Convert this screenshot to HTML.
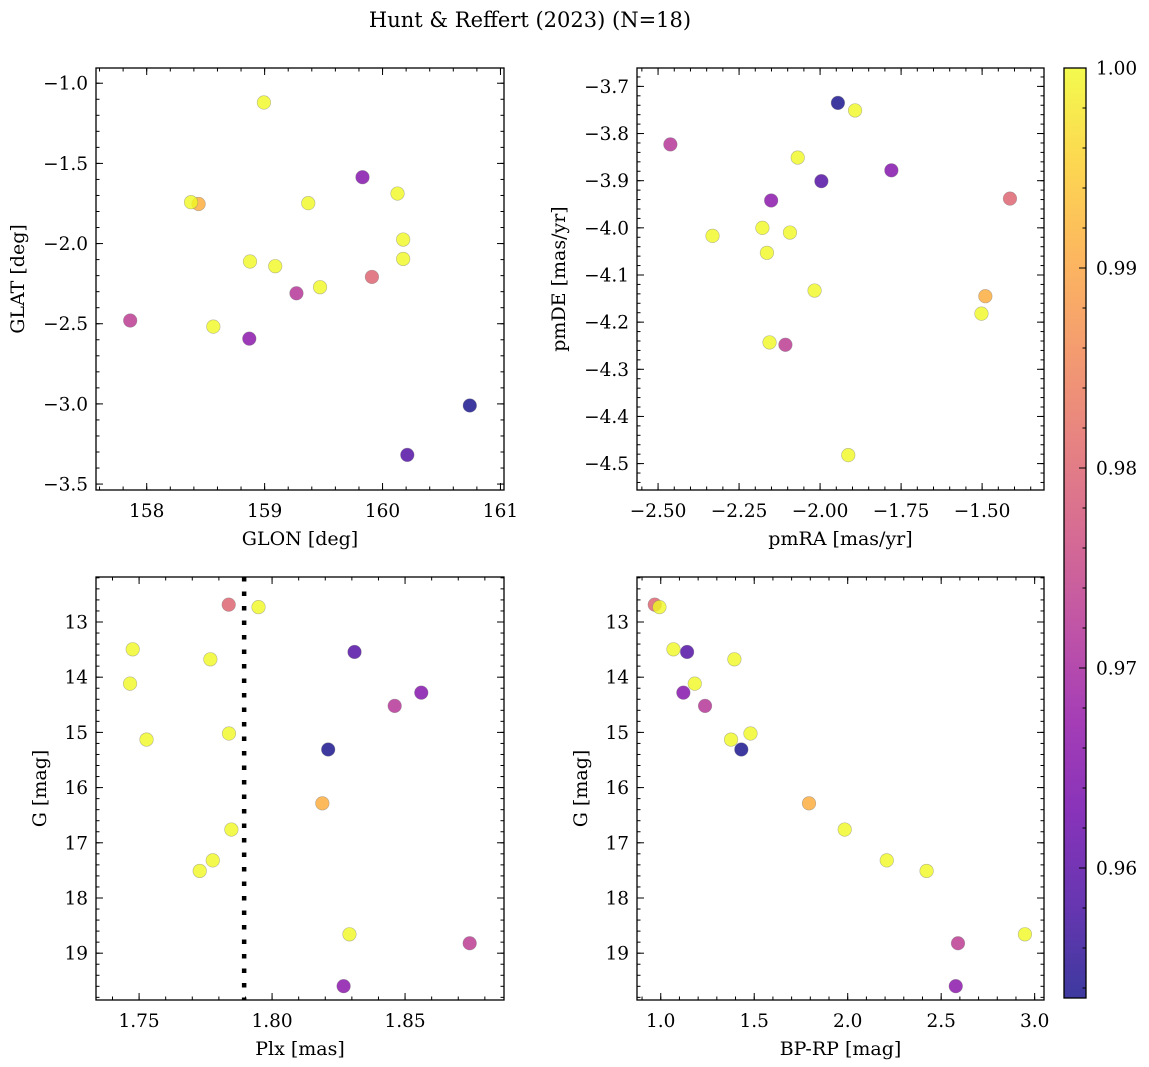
<!DOCTYPE html>
<html><head><meta charset="utf-8"><style>
body{margin:0;background:#fff;}
svg{display:block;font-family:"DejaVu Serif","Liberation Serif",serif;}
</style></head><body>
<svg id="fig" width="1149" height="1067" viewBox="0 0 1149 1067" xmlns="http://www.w3.org/2000/svg">
<defs>
<linearGradient id="plasma" x1="0" y1="1" x2="0" y2="0">
<stop offset="0" stop-color="#0d0887"/><stop offset="0.1" stop-color="#41049d"/><stop offset="0.2" stop-color="#6a00a8"/><stop offset="0.3" stop-color="#8f0da4"/><stop offset="0.4" stop-color="#b12a90"/><stop offset="0.5" stop-color="#cc4778"/><stop offset="0.6" stop-color="#e16462"/><stop offset="0.7" stop-color="#f2844b"/><stop offset="0.8" stop-color="#fca636"/><stop offset="0.9" stop-color="#fcce25"/><stop offset="1" stop-color="#f0f921"/>
</linearGradient>
</defs>
<text x="530" y="27" font-size="21" text-anchor="middle">Hunt &amp; Reffert (2023) (N=18)</text>
</svg>
<script>
const prob = [0.9535,0.959,0.965,0.966,0.972,0.973,0.980,0.991,1,1,1,1,1,1,1,1,1,1];
const glon = [160.74,160.21,159.83,158.87,159.27,157.86,159.91,158.44,158.994,160.127,158.376,159.37,160.175,160.175,158.876,159.09,159.47,158.565];
const glat = [-3.01,-3.318,-1.586,-2.593,-2.31,-2.48,-2.208,-1.753,-1.12,-1.688,-1.742,-1.748,-1.975,-2.096,-2.112,-2.141,-2.272,-2.518];
const pmra = [-1.945,-1.996,-1.780,-2.151,-2.462,-2.107,-1.414,-1.490,-1.892,-2.069,-2.178,-2.093,-2.332,-2.164,-2.017,-1.502,-2.156,-1.913];
const pmde = [-3.735,-3.901,-3.878,-3.942,-3.823,-4.248,-3.938,-4.145,-3.751,-3.851,-4.000,-4.010,-4.017,-4.053,-4.133,-4.182,-4.243,-4.482];
const plx = [1.8211,1.831,1.8561,1.8269,1.8461,1.8743,1.7837,1.8189,1.7949,1.7476,1.7768,1.7466,1.7838,1.7528,1.7847,1.7777,1.7728,1.8291];
const gmag = [15.31,13.543,14.28,19.597,14.52,18.82,12.686,16.285,12.73,13.495,13.676,14.117,15.02,15.13,16.76,17.318,17.51,18.658];
const bprp = [1.431,1.141,1.121,2.578,1.237,2.590,0.968,1.793,0.993,1.068,1.394,1.182,1.480,1.376,1.984,2.209,2.422,2.948];
const plxLine = 1.7895;
const ticksGlon = [158,159,160,161];
const ticksGlat = [-1.0,-1.5,-2.0,-2.5,-3.0,-3.5];
const ticksPmra = [-2.50,-2.25,-2.00,-1.75,-1.50];
const ticksPmde = [-3.7,-3.8,-3.9,-4.0,-4.1,-4.2,-4.3,-4.4,-4.5];
const ticksPlx = [1.75,1.80,1.85];
const ticksG = [13,14,15,16,17,18,19];
const ticksBprp = [1.0,1.5,2.0,2.5,3.0];
const ticksCbar = [1.00,0.99,0.98,0.97,0.96];
const vmin = 0.9535, vmax = 1.0;

const NS = "http://www.w3.org/2000/svg";
const svg = document.getElementById('fig');
const FS = 18.5;
function mk(tag, attrs, parent){const e=document.createElementNS(NS,tag);for(const k in attrs)e.setAttribute(k,attrs[k]);(parent||svg).appendChild(e);return e;}
const stops=[[0,[13,8,135]],[0.1,[65,4,157]],[0.2,[106,0,168]],[0.3,[143,13,164]],[0.4,[177,42,144]],[0.5,[204,71,120]],[0.6,[225,100,98]],[0.7,[242,132,75]],[0.8,[252,166,54]],[0.9,[252,206,37]],[1,[240,249,33]]];
function plasma(t){t=Math.max(0,Math.min(1,t));for(let i=1;i<stops.length;i++){if(t<=stops[i][0]){const a=stops[i-1],b=stops[i];const f=(t-a[0])/(b[0]-a[0]);const c=a[1].map((v,j)=>Math.round(v+(b[1][j]-v)*f));return `rgb(${c[0]},${c[1]},${c[2]})`;}}return 'rgb(240,249,33)';}
function fmt(v,d){return (v<0?'\u2212':'')+Math.abs(v).toFixed(d);}

function panel(o){
  const g=mk('g',{});
  
  
  const sx=v=>o.x0+(v-o.xmin)/(o.xmax-o.xmin)*(o.x1-o.x0);
  const sy=v=>o.y0+(v-o.ymax)/(o.ymin-o.ymax)*(o.y1-o.y0);
  for(let i=0;i<o.xs.length;i++){
    const c=mk('circle',{cx:sx(o.xs[i]),cy:sy(o.ys[i]),r:6.8,fill:plasma((prob[i]-vmin)/(vmax-vmin)),'fill-opacity':0.8,stroke:'#777','stroke-opacity':0.5,'stroke-width':0.6},g);
    
    
  }
  if(o.vline!==undefined){
    const l=mk('line',{x1:sx(o.vline),x2:sx(o.vline),y1:o.y0,y2:o.y1,stroke:'#000','stroke-width':4.5,'stroke-dasharray':'4.5 10'},g);
    
    
  }
  const tk=mk('g',{stroke:'#000','stroke-width':1},g);
  function xt(v,len){const x=sx(v);if(x<o.x0-0.5||x>o.x1+0.5)return;mk('line',{x1:x,x2:x,y1:o.y1,y2:o.y1-len},tk);mk('line',{x1:x,x2:x,y1:o.y0,y2:o.y0+len},tk);}
  function yt(v,len){const y=sy(v);if(y<o.y0-0.5||y>o.y1+0.5)return;mk('line',{x1:o.x0,x2:o.x0+len,y1:y,y2:y},tk);mk('line',{x1:o.x1,x2:o.x1-len,y1:y,y2:y},tk);}
  for(let v=Math.ceil(o.xmin/o.xminor)*o.xminor;v<=o.xmax;v+=o.xminor)xt(v,3.5);
  for(let v=Math.ceil(Math.min(o.ymin,o.ymax)/o.yminor)*o.yminor;v<=Math.max(o.ymin,o.ymax);v+=o.yminor)yt(v,3.5);
  o.xt.forEach(v=>{xt(v,7);const x=sx(v);const t=mk('text',{x:x,y:o.y1+27,'font-size':FS,'text-anchor':'middle'},g);t.textContent=fmt(v,o.xd);});
  o.yt.forEach(v=>{yt(v,7);const y=sy(v);const t=mk('text',{x:o.x0-8,y:y+6.5,'font-size':FS,'text-anchor':'end'},g);t.textContent=fmt(v,o.yd);});
  const fr=mk('rect',{x:o.x0,y:o.y0,width:o.x1-o.x0,height:o.y1-o.y0,fill:'none',stroke:'#000','stroke-width':1.3},g);
  
  
  const xl=mk('text',{x:(o.x0+o.x1)/2,y:o.y1+55,'font-size':19,'text-anchor':'middle'},g);xl.textContent=o.xlabel;
  
  
  const yx=o.ylx, yy=(o.y0+o.y1)/2;
  const yl=mk('text',{x:yx,y:yy,'font-size':19,'text-anchor':'middle',transform:`rotate(-90 ${yx} ${yy})`},g);yl.textContent=o.ylabel;
  
  
}
panel({name:'glon-glat-panel',x0:96,x1:504,y0:68,y1:490,xmin:157.57,xmax:161.03,ymin:-3.537,ymax:-0.905,xs:glon,ys:glat,xt:ticksGlon,yt:ticksGlat,xd:0,yd:1,xminor:0.2,yminor:0.1,xlabel:'GLON [deg]',ylabel:'GLAT [deg]',ylx:24});
panel({name:'pmra-pmde-panel',x0:637,x1:1044,y0:68,y1:490,xmin:-2.565,xmax:-1.309,ymin:-4.556,ymax:-3.661,xs:pmra,ys:pmde,xt:ticksPmra,yt:ticksPmde,xd:2,yd:1,xminor:0.05,yminor:0.02,xlabel:'pmRA [mas/yr]',ylabel:'pmDE [mas/yr]',ylx:565});
panel({name:'plx-g-panel',x0:96,x1:504,y0:577,y1:1000,xmin:1.7338,xmax:1.8872,ymin:19.848,ymax:12.185,xs:plx,ys:gmag,xt:ticksPlx,yt:ticksG,xd:2,yd:0,xminor:0.01,yminor:0.2,xlabel:'Plx [mas]',ylabel:'G [mag]',ylx:46,vline:plxLine});
panel({name:'bprp-g-panel',x0:637,x1:1044,y0:577,y1:1000,xmin:0.873,xmax:3.05,ymin:19.848,ymax:12.185,xs:bprp,ys:gmag,xt:ticksBprp,yt:ticksG,xd:1,yd:0,xminor:0.1,yminor:0.2,xlabel:'BP-RP [mag]',ylabel:'G [mag]',ylx:587});

const cb=mk('g',{});


const cy0=68, cy1=998, cx0=1064, cx1=1086;
const cys=v=>cy0+(vmax-v)/(vmax-vmin)*(cy1-cy0);
mk('rect',{x:cx0,y:cy0,width:cx1-cx0,height:cy1-cy0,fill:'url(#plasma)','fill-opacity':0.8},cb);
mk('rect',{x:cx0,y:cy0,width:cx1-cx0,height:cy1-cy0,fill:'none',stroke:'#000','stroke-width':1.3},cb);
for(let v=vmax;v>=vmin;v-=0.002){mk('line',{x1:cx1,x2:cx1-3.5,y1:cys(v),y2:cys(v),stroke:'#000','stroke-width':1},cb);}
ticksCbar.forEach(v=>{const y=cys(v);mk('line',{x1:cx1,x2:cx1-7,y1:y,y2:y,stroke:'#000','stroke-width':1},cb);const t=mk('text',{x:cx1+10,y:y+6.5,'font-size':FS},cb);t.textContent=v.toFixed(2);});
</script>
</body></html>
